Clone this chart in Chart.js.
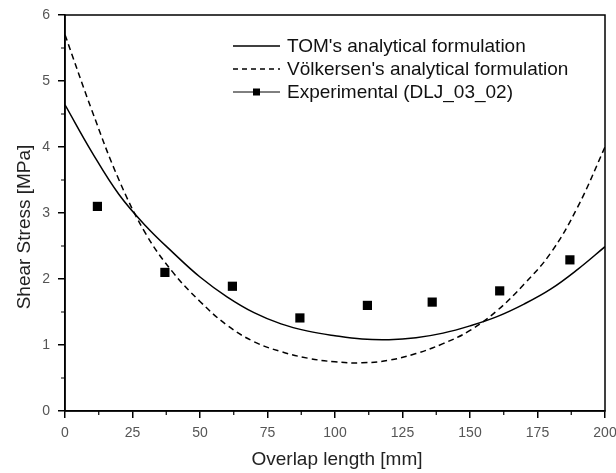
<!DOCTYPE html>
<html>
<head>
<meta charset="utf-8">
<script src="https://cdn.jsdelivr.net/npm/chart.js@4.4.1/dist/chart.umd.min.js"></script>
<style>
  html, body { margin: 0; padding: 0; background: #fff; }
  #wrap { width: 616px; height: 473px; }
</style>
</head>
<body>
<div id="wrap"><canvas id="stressChart" width="616" height="473"></canvas></div>
<script>
// values
const overlapGrid = [0, 10, 20, 30, 40, 50, 60, 70, 80, 90, 100, 110, 120, 130, 140, 150, 160, 170, 180, 190, 200];
const tomStress = [4.64, 3.92, 3.28, 2.80, 2.40, 2.03, 1.73, 1.49, 1.32, 1.21, 1.14, 1.09, 1.08, 1.11, 1.18, 1.29, 1.43, 1.62, 1.85, 2.15, 2.49];
const volkersenStress = [5.70, 4.55, 3.50, 2.68, 2.10, 1.66, 1.30, 1.05, 0.90, 0.80, 0.745, 0.73, 0.77, 0.87, 1.02, 1.22, 1.52, 1.92, 2.40, 3.10, 4.00];
const expOverlap = [12, 37, 62, 87, 112, 136, 161, 187];
const expStress = [3.10, 2.10, 1.89, 1.41, 1.60, 1.65, 1.82, 2.29];
const seriesLabels = ["TOM's analytical formulation", "Völkersen's analytical formulation", "Experimental (DLJ_03_02)"];
const xTicks = [0, 25, 50, 75, 100, 125, 150, 175, 200];
const yTicks = [0, 1, 2, 3, 4, 5, 6];
const xTitle = 'Overlap length [mm]';
const yTitle = 'Shear Stress [MPa]';

const FONT = "'Liberation Sans', Arial, sans-serif";

function toPoints(xs, ys) {
    return xs.map((x, i) => ({ x: x, y: ys[i] }));
}

// box around the plot, minor ticks and axis titles (Origin style)
const frameAndMinorTicks = {
    id: 'frameAndMinorTicks',
    afterDraw(chart) {
        const ctx = chart.ctx;
        const a = chart.chartArea;
        const xs = chart.scales.x;
        const ys = chart.scales.y;
        ctx.save();
        ctx.strokeStyle = '#000';
        ctx.lineWidth = 1.5;
        ctx.strokeRect(a.left, a.top, a.right - a.left, a.bottom - a.top);

        ctx.lineWidth = 1.2;
        ctx.beginPath();
        for (let v = 12.5; v < 200; v += 25) {
            const px = xs.getPixelForValue(v);
            ctx.moveTo(px, a.bottom);
            ctx.lineTo(px, a.bottom + 4);
        }
        for (let v = 0.5; v < 6; v += 1) {
            const py = ys.getPixelForValue(v);
            ctx.moveTo(a.left, py);
            ctx.lineTo(a.left - 4, py);
        }
        ctx.stroke();

        // axis titles
        ctx.fillStyle = '#222';
        ctx.font = '19px ' + FONT;
        ctx.textAlign = 'center';
        ctx.textBaseline = 'middle';
        ctx.fillText(xTitle, 337, 460);
        ctx.translate(25, 227);
        ctx.rotate(-Math.PI / 2);
        ctx.fillText(yTitle, 0, 0);
        ctx.restore();
    }
};

// legend drawn inside the plot, top right
const insideLegend = {
    id: 'insideLegend',
    afterDraw(chart) {
        const ctx = chart.ctx;
        const x0 = 233, x1 = 280, tx = 287;
        const rows = [46, 69, 92];
        ctx.save();
        ctx.font = '19px ' + FONT;
        ctx.fillStyle = '#111';
        ctx.textBaseline = 'middle';
        ctx.strokeStyle = '#000';

        chart.data.datasets.forEach((ds, i) => {
            const y = rows[i];
            ctx.lineWidth = i === 2 ? 1 : 1.5;
            ctx.setLineDash(i === 1 ? [5, 4] : []);
            ctx.beginPath();
            ctx.moveTo(x0, y);
            ctx.lineTo(x1, y);
            ctx.stroke();
            ctx.setLineDash([]);
            if (i === 2) {
                ctx.fillStyle = '#000';
                ctx.fillRect((x0 + x1) / 2 - 3.5, y - 3.5, 7, 7);
                ctx.fillStyle = '#111';
            }
            ctx.fillText(ds.label, tx, y + 1);
        });
        ctx.restore();
    }
};

const ctx = document.getElementById('stressChart').getContext('2d');
const chart = new Chart(ctx, {
    type: 'scatter',
    data: {
        datasets: [
            {
                label: seriesLabels[0],
                data: toPoints(overlapGrid, tomStress),
                showLine: true,
                borderColor: '#000',
                borderWidth: 1.5,
                pointRadius: 0,
                tension: 0.4
            },
            {
                label: seriesLabels[1],
                data: toPoints(overlapGrid, volkersenStress),
                showLine: true,
                borderColor: '#000',
                borderWidth: 1.5,
                borderDash: [6, 4],
                pointRadius: 0,
                tension: 0.4
            },
            {
                label: seriesLabels[2],
                data: toPoints(expOverlap, expStress),
                showLine: false,
                pointStyle: 'rect',
                pointRadius: 6.5,
                backgroundColor: '#000',
                borderColor: '#000',
                borderWidth: 0
            }
        ]
    },
    options: {
        responsive: false,
        animation: false,
        layout: { padding: { top: 15, right: 11, left: 0, bottom: 0 } },
        plugins: {
            legend: { display: false },
            tooltip: { enabled: false }
        },
        scales: {
            x: {
                type: 'linear',
                min: 0,
                max: 200,
                afterFit: (s) => { s.height = 62; s.paddingLeft = 0; s.paddingRight = 0; },
                afterBuildTicks: (s) => { s.ticks = xTicks.map(v => ({ value: v })); },
                grid: { display: true, drawOnChartArea: false, drawTicks: true, tickLength: 7, color: '#000', lineWidth: 1.5 },
                border: { display: true, color: '#000', width: 1.5 },
                ticks: { color: '#555', font: { family: FONT, size: 14 }, padding: 6.5, maxRotation: 0 },
                title: { display: false }
            },
            y: {
                type: 'linear',
                min: 0,
                max: 6,
                afterFit: (s) => { s.width = 65; s.paddingTop = 0; s.paddingBottom = 0; },
                afterBuildTicks: (s) => { s.ticks = yTicks.map(v => ({ value: v })); },
                grid: { display: true, drawOnChartArea: false, drawTicks: true, tickLength: 7, color: '#000', lineWidth: 1.5 },
                border: { display: true, color: '#000', width: 1.5 },
                ticks: { color: '#555', font: { family: FONT, size: 14 }, padding: 8 },
                title: { display: false }
            }
        }
    },
    plugins: [frameAndMinorTicks, insideLegend]
});
</script>
</body>
</html>
